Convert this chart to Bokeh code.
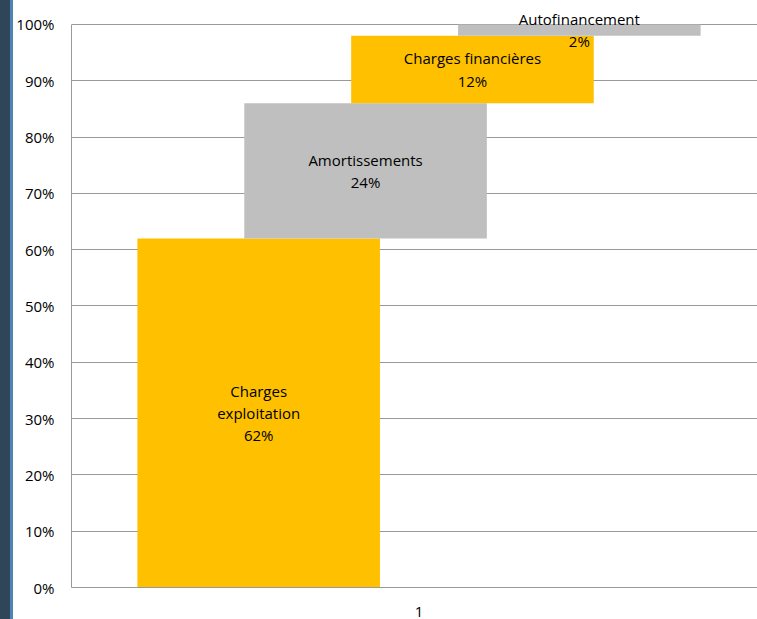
from bokeh.plotting import figure
from bokeh.models import Range1d, FixedTicker, PrintfTickFormatter, ColumnDataSource, Div
from bokeh.layouts import row
from bokeh.core.properties import value
from bokeh.embed import file_html
from bokeh.resources import INLINE

categories = ["Charges\nexploitation", "Amortissements", "Charges financières", "Autofinancement"]
values = [62, 24, 12, 2]
colors = ["#FFC000", "#BFBFBF", "#FFC000", "#BFBFBF"]
y_ticks = [0, 10, 20, 30, 40, 50, 60, 70, 80, 90, 100]
x_category = [1]
x_labels = ["1"]

bar_width = 0.349
step = 0.1538

bottoms, tops, xs, labels, mids = [], [], [], [], []
acc = 0
for i, (c, v) in enumerate(zip(categories, values)):
    bottoms.append(acc)
    tops.append(acc + v)
    mids.append(acc + v / 2)
    xs.append(x_category[0] + (i - 1.5) * step)
    labels.append(f"{c}\n{v}%")
    acc += v

src = ColumnDataSource(dict(x=xs, bottom=bottoms, top=tops, mid=mids, label=labels, color=colors))

# frame extends a little above 100% so that the top label is not clipped
frame_h, plot_h = 588, 564
p = figure(width=744, height=619, output_backend="svg", toolbar_location=None,
           x_range=Range1d(0.5, 1.487), y_range=Range1d(0, 100 * frame_h / plot_h),
           min_border_left=57, min_border_right=0, min_border_top=0, min_border_bottom=31)
p.outline_line_color = None
p.background_fill_color = "white"
p.border_fill_color = "white"

p.vbar(x="x", bottom="bottom", top="top", width=bar_width, fill_color="color",
       line_color=None, source=src)
p.text(x="x", y="mid", text="label", source=src, text_align="center", text_baseline="middle",
       text_font=value("Open Sans"), text_font_size="15px", text_line_height=1.12, text_color="#000000")

p.xgrid.visible = False
p.ygrid.grid_line_color = "#999999"
p.ygrid.grid_line_width = 1

p.yaxis.ticker = FixedTicker(ticks=y_ticks)
p.yaxis.formatter = PrintfTickFormatter(format="%d%%")
p.yaxis.bounds = (0, 100)
p.xaxis.ticker = FixedTicker(ticks=x_category)
p.xaxis.major_label_overrides = {x_category[0]: x_labels[0]}
for ax in (p.xaxis, p.yaxis):
    ax.axis_line_color = "#999999"
    ax.major_tick_line_color = None
    ax.minor_tick_line_color = None
    ax.major_tick_out = 0
    ax.major_tick_in = 0
    ax.major_label_text_font = "Open Sans"
    ax.major_label_text_font_size = "15px"
    ax.major_label_text_color = "#000000"
p.yaxis.major_label_standoff = 17
p.xaxis.major_label_standoff = 19

strip = Div(text="", width=13, height=619,
            styles={"background": "linear-gradient(to right, #2e4657 0px, #2e4657 10px, #4f81bd 10px, #4f81bd 13px)",
                    "margin": "0", "padding": "0"})

layout = row(strip, p, spacing=0)

open("out.html", "w").write(file_html(layout, INLINE))
